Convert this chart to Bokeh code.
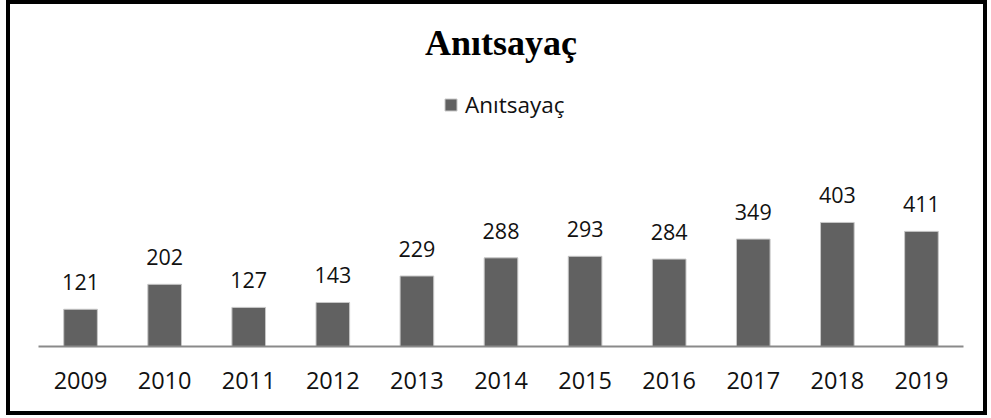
from bokeh.plotting import figure
from bokeh.models import ColumnDataSource, LabelSet, Legend, LegendItem, Range1d
from bokeh.core.properties import value
from bokeh.embed import file_html
from bokeh.resources import INLINE

# ---- data ----
years = ["2009", "2010", "2011", "2012", "2013", "2014", "2015", "2016", "2017", "2018", "2019"]
bar_values = [121, 202, 127, 143, 229, 288, 293, 284, 349, 403, 374]
value_labels = ["121", "202", "127", "143", "229", "288", "293", "284", "349", "403", "411"]
series_name = "Anıtsayaç"
chart_title = "Anıtsayaç"

BAR_COLOR = "#616161"
LABEL_FONT = "Open Sans"

src = ColumnDataSource(dict(year=years, val=bar_values, lab=value_labels))

p = figure(x_range=years, y_range=Range1d(0, 1111), width=981, height=415,
           output_backend="svg", toolbar_location=None, y_axis_location=None,
           min_border_left=28, min_border_right=28, min_border_top=0, min_border_bottom=73)
p.styles = {"border": "4px solid black", "margin-left": "6px"}

p.outline_line_color = None
p.xgrid.visible = False
p.ygrid.visible = False
p.x_range.range_padding = 0

r = p.vbar(x="year", top="val", width=0.40, source=src,
           fill_color=BAR_COLOR, line_color="#c8c8c8", line_width=1)

# data labels
labels = LabelSet(x="year", y="val", text="lab", source=src, y_offset=19,
                  text_align="center", text_baseline="alphabetic",
                  text_font=value(LABEL_FONT), text_font_size="21.5px", text_color="#111111")
p.add_layout(labels)

# axis
ax = p.xaxis[0]
ax.axis_line_color = "#8a8a8a"
ax.axis_line_width = 2
ax.major_tick_line_color = None
ax.minor_tick_line_color = None
ax.major_label_standoff = 19
ax.major_label_text_font = LABEL_FONT
ax.major_label_text_font_size = "23.5px"
ax.major_label_text_color = "#111111"

# title (centred over the middle category)
title_src = ColumnDataSource(dict(x=[years[len(years) // 2]], y=[946], t=[chart_title]))
t = LabelSet(x="x", y="y", text="t", source=title_src, text_align="center",
             text_baseline="alphabetic", text_font=value("Liberation Serif"),
             text_font_style="bold", text_font_size="36px", text_color="black")
p.add_layout(t)

# legend
leg = Legend(items=[LegendItem(label=series_name, renderers=[r])],
             location=(405, 226), orientation="horizontal",
             glyph_width=15, glyph_height=15, label_standoff=7,
             padding=0, margin=0, spacing=0,
             label_text_font=LABEL_FONT, label_text_font_size="22.5px",
             label_text_color="#111111",
             border_line_color=None, background_fill_alpha=0)
p.add_layout(leg)

open("out.html", "w").write(file_html(p, INLINE))
